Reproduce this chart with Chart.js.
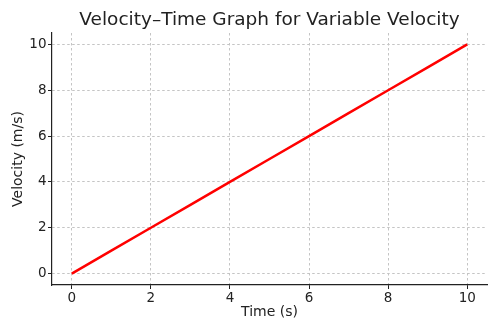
<!DOCTYPE html>
<html>
<head>
<meta charset="utf-8">
<script src="https://cdn.jsdelivr.net/npm/chart.js@4/dist/chart.umd.min.js"></script>
<style>
  html, body { margin: 0; padding: 0; background: #fff; }
  #wrap { width: 500px; height: 333px; }
</style>
</head>
<body>
<div id="wrap"><canvas id="velChart"></canvas></div>
<script>
const timeValues = [0, 1, 2, 3, 4, 5, 6, 7, 8, 9, 10];
const velocityValues = [0, 1, 2, 3, 4, 5, 6, 7, 8, 9, 10];
const tickValues = [0, 2, 4, 6, 8, 10];
const chartTitle = 'Velocity–Time Graph for Variable Velocity';

Chart.defaults.font.family = 'DejaVu Sans';
Chart.defaults.color = '#222';

const points = timeValues.map((t, i) => ({ x: t, y: velocityValues[i] }));

const fixedTicks = scale => {
    scale.ticks = tickValues.map(v => ({ value: v }));
};

// title centred over the plot area, like matplotlib does
const plotTitle = {
    id: 'plotTitle',
    afterDraw(chart) {
        const { ctx, chartArea } = chart;
        ctx.save();
        ctx.font = '18.5px "DejaVu Sans"';
        ctx.fillStyle = '#222';
        ctx.textAlign = 'center';
        ctx.textBaseline = 'middle';
        ctx.fillText(chartTitle, (chartArea.left + chartArea.right) / 2, 20);
        ctx.restore();
    }
};

const gridStyle = {
    color: '#c4c4c4',
    lineWidth: 1,
    tickLength: 4,
    tickColor: '#222',
    tickWidth: 1
};

new Chart(document.getElementById('velChart'), {
    type: 'line',
    data: {
        datasets: [{
            data: points,
            borderColor: '#ff0000',
            borderWidth: 2.5,
            pointRadius: 0,
            fill: false,
            tension: 0
        }]
    },
    options: {
        responsive: true,
        maintainAspectRatio: false,
        animation: false,
        layout: { padding: { left: 0, right: 13, top: 33, bottom: 0 } },
        plugins: {
            legend: { display: false },
            tooltip: { enabled: false },
            title: { display: false }
        },
        scales: {
            x: {
                type: 'linear',
                min: -0.5,
                max: 10.5,
                afterBuildTicks: fixedTicks,
                afterFit: s => { s.height = 48; },
                grid: gridStyle,
                border: { display: true, color: '#222', width: 1.2, dash: [2.5, 2.5] },
                ticks: { font: { size: 13.5 }, padding: 1, color: '#222' },
                title: { display: true, text: 'Time (s)', font: { size: 14 }, padding: { top: 0, bottom: 12 } }
            },
            y: {
                type: 'linear',
                min: -0.5,
                max: 10.5,
                afterBuildTicks: fixedTicks,
                afterFit: s => { s.width = 52; },
                grid: gridStyle,
                border: { display: true, color: '#222', width: 1.2, dash: [2.5, 2.5] },
                ticks: { font: { size: 13.5 }, padding: 1.5, color: '#222' },
                title: { display: true, text: 'Velocity (m/s)', font: { size: 14 }, padding: { top: 10, bottom: 0 } }
            }
        }
    },
    plugins: [plotTitle]
});
</script>
</body>
</html>
